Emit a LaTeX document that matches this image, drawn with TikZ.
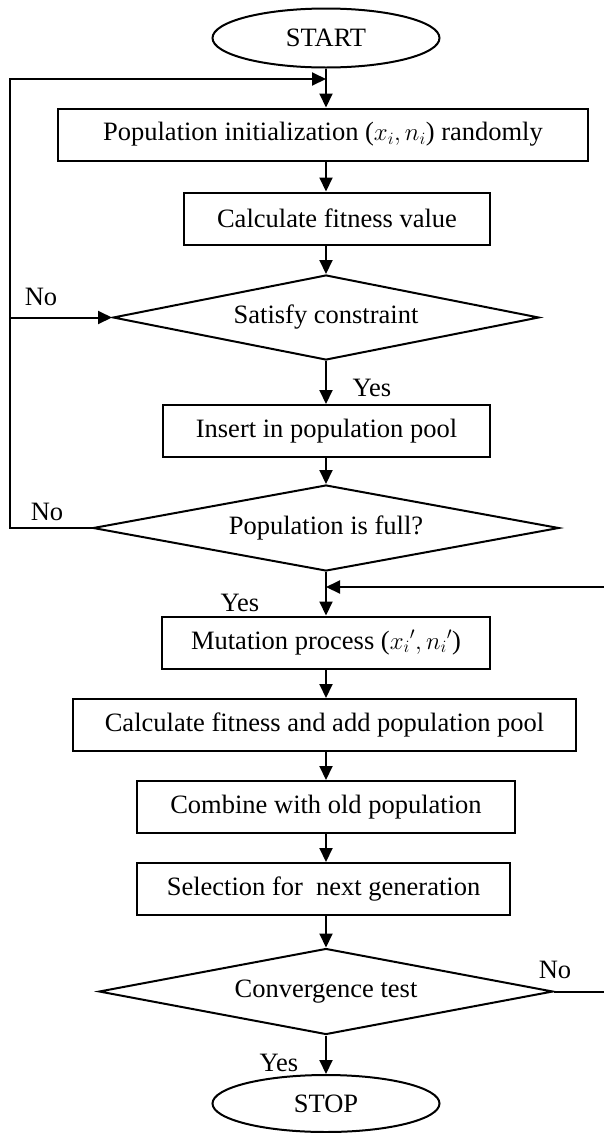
\documentclass[tikz,border=0pt]{standalone}
\usepackage{fontspec}
\setmainfont{Liberation Serif}
\usetikzlibrary{shapes.geometric,arrows.meta}
\begin{document}
\begin{tikzpicture}[x=1pt,y=-1pt,
  every node/.style={font=\fontsize{26.5}{30}\selectfont},
  proc/.style={draw, line width=2pt, inner sep=0pt, minimum height=52pt},
  dec/.style={diamond, draw, line width=2pt, inner sep=0pt, aspect=5},
  term/.style={ellipse, draw, line width=2pt, inner sep=0pt, minimum width=227pt, minimum height=59pt},
  arr/.style={line width=2pt, -{Triangle[length=14pt,width=13pt]}},
  lbl/.style={inner sep=0pt}]
\useasboundingbox (0,0) rectangle (603,1133);
\node[term] (start) at (326,38) {START};
\node[proc, minimum width=530pt] (b1) at (323,134.5) {Population initialization ($x_i, n_i$) randomly};
\node[proc, minimum width=306pt] (b2) at (337,218.5) {Calculate fitness value};
\node[dec, minimum width=426pt, minimum height=85pt] (d1) at (326,317.5) {Satisfy constraint};
\node[proc, minimum width=327pt] (b3) at (326.5,431) {Insert in population pool};
\node[dec, minimum width=466pt, minimum height=86pt] (d2) at (326,528) {Population is full?};
\node[proc, minimum width=328pt] (b4) at (326,642.5) {Mutation process (${x_i}', {n_i}'$)};
\node[proc, minimum width=503pt] (b5) at (324.5,725) {Calculate fitness and add population pool};
\node[proc, minimum width=378pt] (b6) at (326,807) {Combine with old population};
\node[proc, minimum width=373pt] (b7) at (323.5,889) {Selection for~ next generation};
\node[dec, minimum width=454pt, minimum height=86pt] (d3) at (326,991.5) {Convergence test};
\node[term, minimum height=57pt] (stop) at (326,1103.5) {STOP};
\node[lbl] (no1) at (41,297) {No};
\node[lbl] (no2) at (47,512) {No};
\node[lbl] (no3) at (555,970) {No};
\node[lbl] (yes1) at (372,388) {Yes};
\node[lbl] (yes2) at (240,603) {Yes};
\node[lbl] (yes3) at (279,1063) {Yes};
\coordinate (L) at (9.5,79);
\coordinate (j1) at (326,79);
\coordinate (R) at (607,587);
\coordinate (j2) at (326,587);
\draw[arr] (start.south) -- (start.south |- b1.north);
\draw[arr] (b1.south -| start) -- (b2.north -| start);
\draw[arr] (b2.south -| start) -- (d1.north);
\draw[arr] (d1.south) -- (b3.north -| d1.south);
\draw[arr] (b3.south -| start) -- (d2.north);
\draw[arr] (d2.south) -- (b4.north -| d2.south);
\draw[arr] (b4.south -| start) -- (b5.north -| start);
\draw[arr] (b5.south -| start) -- (b6.north -| start);
\draw[arr] (b6.south -| start) -- (b7.north -| start);
\draw[arr] (b7.south -| start) -- (d3.north);
\draw[arr] (d3.south) -- (stop.north);
\draw[arr] (d2.west) -- (d2.west -| L) -- (L) -- (j1);
\draw[arr] (d1.west -| L) -- (d1.west);
\draw[arr] (d3.east) -- (d3.east -| R) -- (R) -- (j2);
\end{tikzpicture}
\end{document}
